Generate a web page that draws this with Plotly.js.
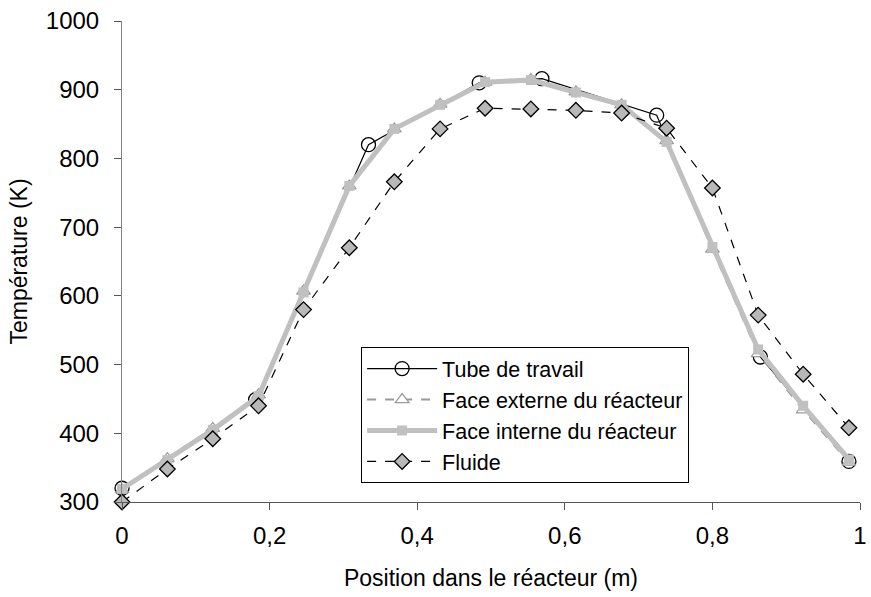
<!DOCTYPE html>
<html>
<head>
<meta charset="utf-8">
<script src="https://cdn.plot.ly/plotly-3.0.1.min.js"></script>
<style>html,body{margin:0;padding:0;background:#fff;}#chart{width:871px;height:597px;}</style>
</head>
<body>
<div id="chart"></div>
<script>
// Positions (m) shared by the reactor faces and the fluid
const positions = [0, 0.0615, 0.123, 0.185, 0.246, 0.308, 0.369, 0.431, 0.492, 0.554, 0.615, 0.677, 0.738, 0.800, 0.862, 0.923, 0.985];
// Work tube positions (m) and temperatures (K)
const tubePositions = [0, 0.181, 0.334, 0.484, 0.569, 0.7245, 0.865, 0.985];
const tubeTemps = [320, 449, 820, 910, 916, 863, 511, 359];
// Reactor outer face (K)
const externeTemps = [318, 363, 407, 456, 607, 760, 843, 879, 911, 915, 897, 878, 826, 668, 516, 434, 358];
// Reactor inner face (K)
const interneTemps = [319, 361, 405, 454, 605, 760, 843, 878, 911, 914, 896, 878, 824, 671, 522, 440, 362];
// Fluid (K)
const fluideTemps = [300, 348, 392, 440, 580, 670, 766, 843, 873, 872, 870, 866, 844, 757, 572, 486, 408];

const seriesNames = ["Tube de travail", "Face externe du réacteur", "Face interne du réacteur", "Fluide"];

const FONT = "Liberation Sans, Arial, Helvetica, sans-serif";

const traces = [
  {
    x: tubePositions, y: tubeTemps, name: seriesNames[0], type: "scatter", mode: "lines+markers",
    line: {color: "#000", width: 1.2},
    marker: {symbol: "circle-open", size: 14, color: "#000", line: {width: 1.3, color: "#000"}},
    cliponaxis: false
  },
  {
    x: positions, y: externeTemps, name: seriesNames[1], type: "scatter", mode: "lines+markers",
    line: {color: "#999999", width: 2, dash: "dash"},
    marker: {symbol: "triangle-up", size: 12, color: "#ffffff", line: {width: 1.2, color: "#999999"}},
    cliponaxis: false
  },
  {
    x: positions, y: interneTemps, name: seriesNames[2], type: "scatter", mode: "lines+markers",
    line: {color: "#c0c0c0", width: 5},
    marker: {symbol: "square", size: 10, color: "#c0c0c0", line: {width: 0}},
    cliponaxis: false
  },
  {
    x: positions, y: fluideTemps, name: seriesNames[3], type: "scatter", mode: "lines+markers",
    line: {color: "#000", width: 1.2, dash: "dash"},
    marker: {symbol: "diamond", size: 12, color: "#b8b8b8", line: {width: 1.3, color: "#000"}},
    cliponaxis: false
  }
];

const layout = {
  width: 871, height: 597,
  margin: {l: 122, r: 11, t: 21, b: 95, pad: 0},
  paper_bgcolor: "#fff", plot_bgcolor: "#fff",
  separators: ", ",
  font: {family: FONT, size: 24, color: "#000"},
  showlegend: true,
  legend: {
    x: 0.324, y: 0.322, xanchor: "left", yanchor: "top",
    bgcolor: "#fff", bordercolor: "#000", borderwidth: 1,
    font: {family: FONT, size: 21.5, color: "#000"},
    itemwidth: 70, tracegroupgap: 0
  },
  xaxis: {
    range: [0, 1], dtick: 0.2, tick0: 0, autorange: false,
    showgrid: false, zeroline: false, showline: true, linecolor: "#555", linewidth: 1,
    ticks: "outside", ticklen: 7, tickcolor: "#555", ticklabelstandoff: 5,
    tickfont: {family: FONT, size: 24, color: "#000"},
    title: {text: "Position dans le réacteur (m)", font: {family: FONT, size: 23, color: "#000"}, standoff: 22},
    automargin: false
  },
  yaxis: {
    range: [300, 1000], dtick: 100, tick0: 300, autorange: false,
    showgrid: false, zeroline: false, showline: true, linecolor: "#808080", linewidth: 1,
    ticks: "outside", ticklen: 7, tickcolor: "#555", ticklabelstandoff: 10,
    tickfont: {family: FONT, size: 24, color: "#000"},
    title: {text: "Température (K)", font: {family: FONT, size: 23, color: "#000"}, standoff: 11},
    automargin: false
  }
};

Plotly.newPlot("chart", traces, layout, {displayModeBar: false, staticPlot: true});
</script>
</body>
</html>
